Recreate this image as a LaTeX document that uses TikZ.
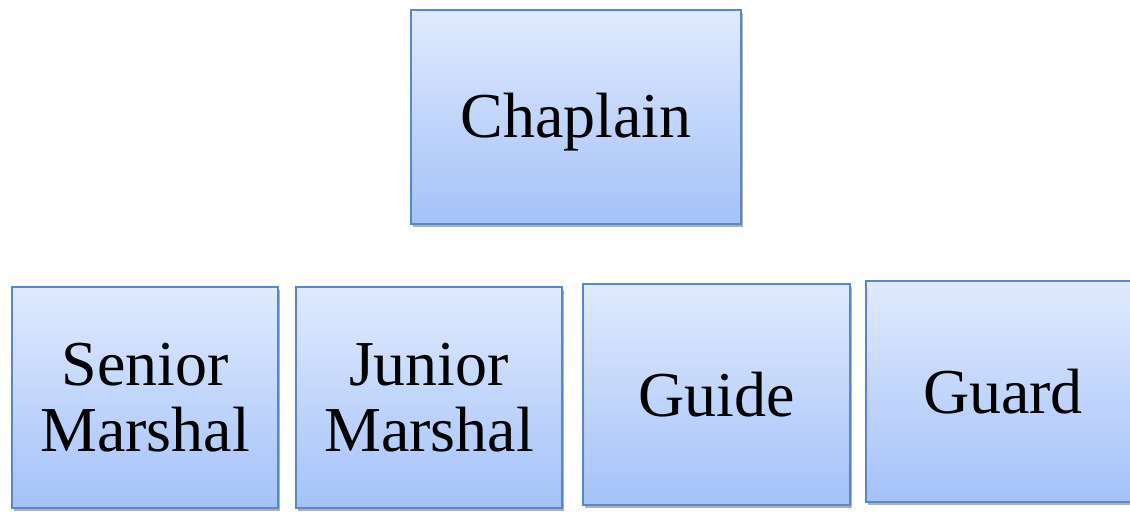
\documentclass[tikz,border=0pt]{standalone}
\usepackage{fontspec}
\setmainfont{Liberation Serif}
\usetikzlibrary{shadows}
\definecolor{boxtop}{HTML}{E0EAFD}
\definecolor{boxbot}{HTML}{A4C2F9}
\definecolor{boxline}{HTML}{5A87C6}
\tikzset{
  orgbox/.style={rectangle, draw=boxline, line width=1.5pt, top color=boxtop, bottom color=boxbot,
    inner sep=0pt, align=center, font=\fontsize{64}{66}\selectfont,
    drop shadow={shadow xshift=2pt, shadow yshift=-3pt, opacity=0.5, fill=black!60}}
}
\begin{document}
\begin{tikzpicture}[x=1pt,y=1pt]
\useasboundingbox (0,0) rectangle (1130,521);
\fill[white] (0,0) rectangle (1130,521);
\node[orgbox, minimum width=330pt, minimum height=214pt] (chap) at (576,404) {\raisebox{-5pt}[\height][\depth]{Chaplain}};
\node[orgbox, minimum width=266pt, minimum height=221pt] (sm) at (145,123.5) {Senior\\Marshal};
\node[orgbox, minimum width=266pt, minimum height=221pt] (jm) at (429,123.5) {Junior\\Marshal};
\node[orgbox, minimum width=267pt, minimum height=221pt] (gd) at (716.5,126.5) {Guide};
\node[orgbox, minimum width=300pt, minimum height=221pt] (gu) at (1016,129.5) {\hspace*{-26pt}Guard};
\end{tikzpicture}
\end{document}
